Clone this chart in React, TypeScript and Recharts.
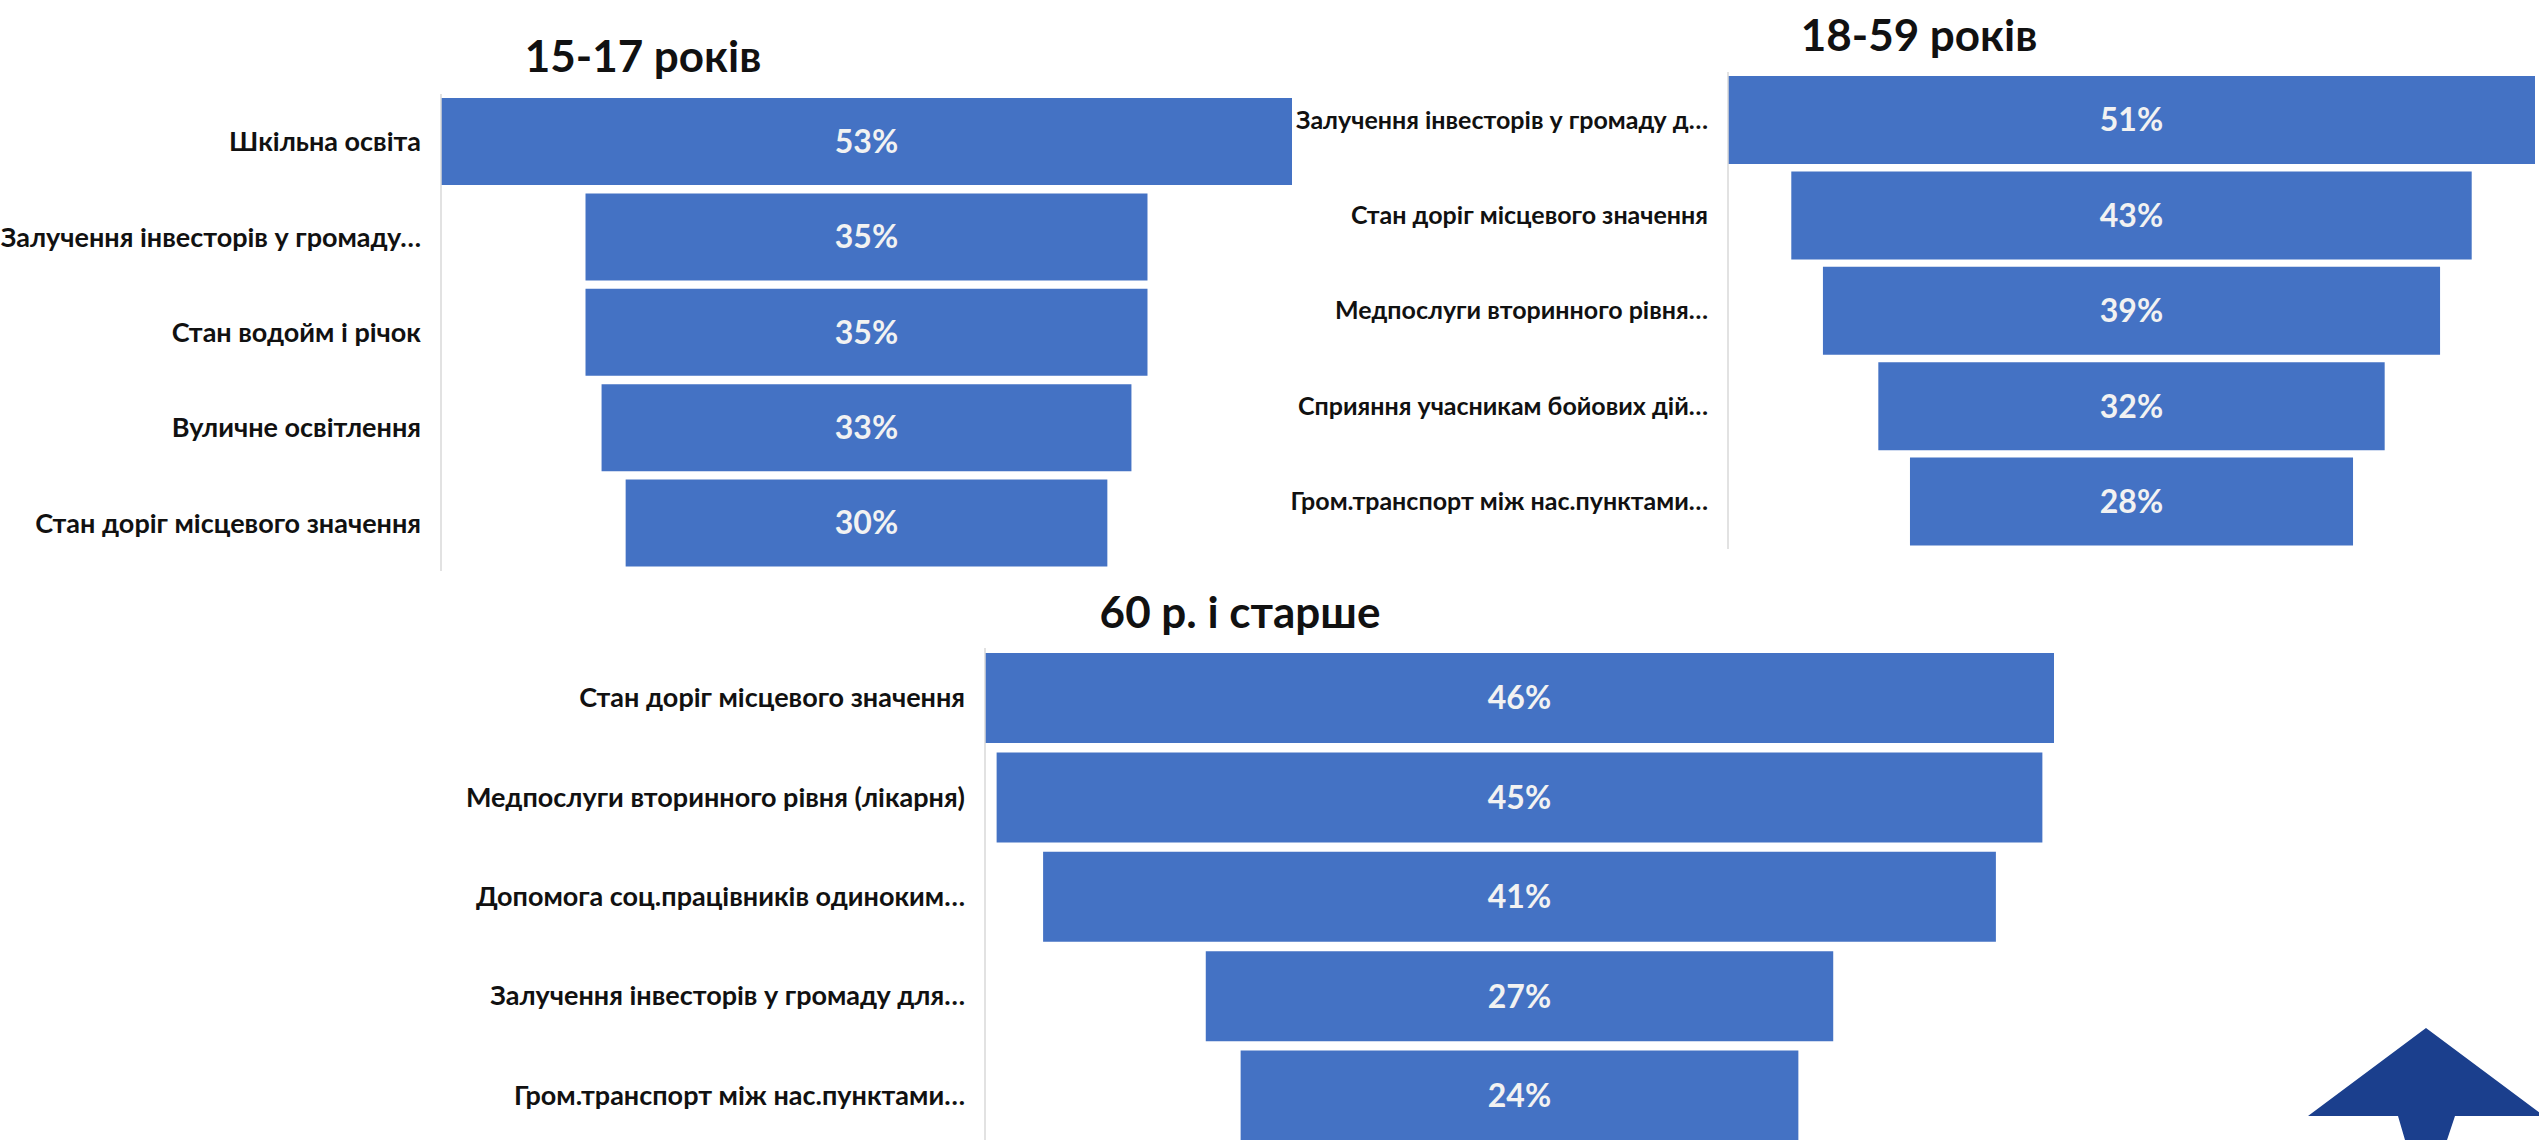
import React from 'react';
import { BarChart, Bar, XAxis, YAxis, LabelList } from 'recharts';

// 15-17 років
const youthNames = [
  'Шкільна освіта',
  'Залучення інвесторів у громаду…',
  'Стан водойм і річок',
  'Вуличне освітлення',
  'Стан доріг місцевого значення',
];
const youthValues = [53, 35, 35, 33, 30];

// 18-59 років
const adultNames = [
  'Залучення інвесторів у громаду д…',
  'Стан доріг місцевого значення',
  'Медпослуги вторинного рівня…',
  'Сприяння учасникам бойових дій…',
  'Гром.транспорт між нас.пунктами…',
];
const adultValues = [51, 43, 39, 32, 28];

// 60 р. і старше
const seniorNames = [
  'Стан доріг місцевого значення',
  'Медпослуги вторинного рівня (лікарня)',
  'Допомога соц.працівників одиноким…',
  'Залучення інвесторів у громаду для…',
  'Гром.транспорт між нас.пунктами…',
];
const seniorValues = [46, 45, 41, 27, 24];

const FONT = 'Lato, "Open Sans", sans-serif';
const BLUE = '#4472C4';

// funnel = invisible offset bar + centred value bar, stacked
const toFunnel = (names: string[], values: number[]) => {
  const max = Math.max(...values);
  return names.map((name, i) => ({ name, value: values[i], offset: (max - values[i]) / 2 }));
};

interface PanelProps {
  names: string[];
  values: number[];
  left: number;
  top: number;
  axisWidth: number;
  plotWidth: number;
  height: number;
  barSize: number;
  labelSize: number;
  marginRight?: number;
}

function FunnelPanel({ names, values, left, top, axisWidth, plotWidth, height, barSize, labelSize, marginRight = 0 }: PanelProps) {
  const data = toFunnel(names, values);
  const max = Math.max(...values);
  return (
    <div style={{ position: 'absolute', left, top }}>
      <BarChart
        width={axisWidth + plotWidth + marginRight}
        height={height}
        data={data}
        layout="vertical"
        margin={{ top: 0, right: marginRight, bottom: 0, left: 0 }}
      >
        <XAxis type="number" domain={[0, max]} hide />
        <YAxis
          type="category"
          dataKey="name"
          width={axisWidth}
          interval={0}
          tickLine={false}
          tickSize={0}
          tickMargin={20}
          axisLine={{ stroke: '#d9d9d9', strokeWidth: 1.5 }}
          tick={{ fill: '#111', fontSize: labelSize, fontWeight: 700, fontFamily: FONT }}
        />
        <Bar dataKey="offset" stackId="f" fill="transparent" barSize={barSize} isAnimationActive={false} />
        <Bar dataKey="value" stackId="f" fill={BLUE} barSize={barSize} isAnimationActive={false}>
          <LabelList
            dataKey="value"
            position="center"
            formatter={(v: any) => `${v}%`}
            style={{ fill: '#f2f2f2', fontSize: 32, fontWeight: 700, fontFamily: FONT }}
          />
        </Bar>
      </BarChart>
    </div>
  );
}

const Title = ({ text, x, y }: { text: string; x: number; y: number }) => (
  <div
    style={{
      position: 'absolute', left: x, top: y, transform: 'translate(-50%, -50%)',
      fontFamily: FONT, fontWeight: 700, fontSize: 44, lineHeight: 1,
      color: '#111', whiteSpace: 'nowrap',
    }}
  >
    {text}
  </div>
);

export default function App() {
  return (
    <div
      style={{
        position: 'absolute', left: 0, top: 0, width: 2539, height: 1140,
        overflow: 'hidden', background: '#fff',
      }}
    >
      <Title text="15-17 років" x={643} y={55} />
      <FunnelPanel
        names={youthNames} values={youthValues}
        left={-30} top={94} axisWidth={471} plotWidth={851}
        height={477} barSize={87} labelSize={27}
      />

      <Title text="18-59 років" x={1919} y={34} />
      <FunnelPanel
        names={adultNames} values={adultValues}
        left={1250} top={72} axisWidth={478} plotWidth={807}
        height={477} barSize={88} labelSize={25} marginRight={4}
      />

      <Title text="60 р. і старше" x={1240} y={611} />
      <FunnelPanel
        names={seniorNames} values={seniorValues}
        left={400} top={648} axisWidth={585} plotWidth={1069}
        height={497} barSize={90} labelSize={27}
      />

      <svg width={2539} height={1140} style={{ position: 'absolute', left: 0, top: 0, pointerEvents: 'none' }}>
        <polygon
          points="2426,1028 2544,1116 2455,1116 2447,1140 2405,1140 2398,1116 2308,1116"
          fill="#1B3F8D"
        />
      </svg>
    </div>
  );
}
